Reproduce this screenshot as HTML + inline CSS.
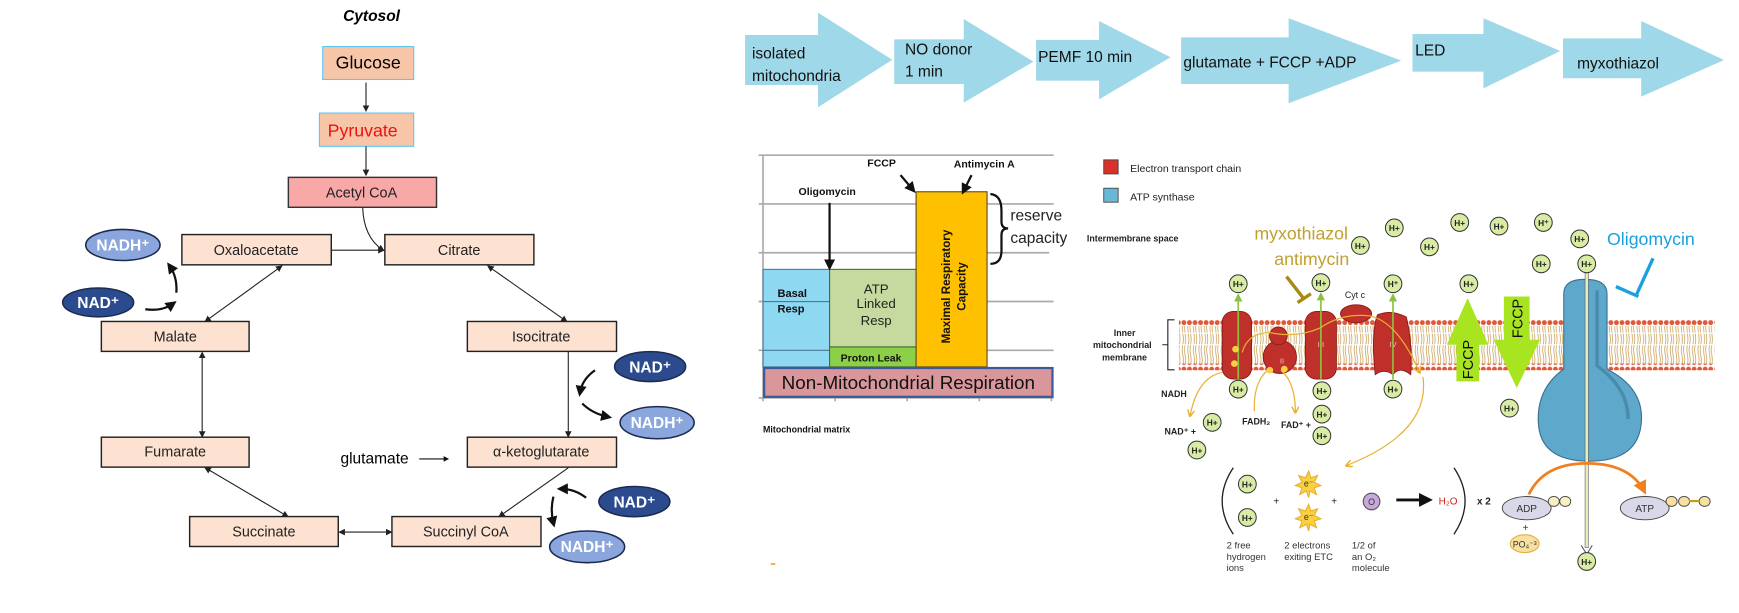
<!DOCTYPE html>
<html><head><meta charset="utf-8"><style>
html,body{margin:0;padding:0;background:#fff;}
svg{display:block;}
text{font-family:"Liberation Sans",sans-serif;}
</style></head><body>
<svg width="1739" height="613" viewBox="0 0 1568 553" preserveAspectRatio="none" xmlns="http://www.w3.org/2000/svg">
<defs>
<marker id="ah" markerWidth="6" markerHeight="6" refX="5" refY="3" orient="auto"><path d="M0,0 L6,3 L0,6z" fill="#222"/></marker>
<marker id="ahs" markerWidth="6" markerHeight="6" refX="1" refY="3" orient="auto"><path d="M6,0 L0,3 L6,6z" fill="#222"/></marker>
<marker id="ab" markerWidth="5" markerHeight="5" refX="3" refY="2.5" orient="auto"><path d="M0,0 L5,2.5 L0,5z" fill="#111"/></marker>
<marker id="ay" markerWidth="6" markerHeight="6" refX="5" refY="3" orient="auto"><path d="M0,0 L6,3 L0,6" fill="none" stroke="#e8b030" stroke-width="1.2"/></marker>
<marker id="ag" markerWidth="5" markerHeight="5" refX="4" refY="2.5" orient="auto"><path d="M0,0 L5,2.5 L0,5z" fill="#8cc040"/></marker>
<marker id="ao" markerWidth="5" markerHeight="5" refX="4" refY="2.5" orient="auto"><path d="M0,0 L5,2.5 L0,5z" fill="#f08020"/></marker>
<pattern id="heads" width="5" height="6" patternUnits="userSpaceOnUse"><circle cx="2.5" cy="3" r="2.2" fill="#e0583a"/></pattern>
<pattern id="tails" width="5" height="40" patternUnits="userSpaceOnUse"><path d="M1.5,0 q1,5 0,10 q-1,5 0,10 M3.5,0 q1,5 0,10 q-1,5 0,10 M1.5,21 q1,5 0,10 q-1,5 0,9 M3.5,21 q1,5 0,10 q-1,5 0,9" stroke="#c8a058" stroke-width="0.7" fill="none"/></pattern>
</defs>

<!-- LEFT PANEL -->
<text x="335" y="19" font-size="14" font-weight="bold" font-style="italic" text-anchor="middle">Cytosol</text>
<g stroke-width="1">
<rect x="291" y="42" width="82" height="29.7" fill="#f7c6a8" stroke="#5cc8f0"/>
<rect x="288" y="102" width="85" height="30" fill="#f7c6a8" stroke="#5cc8f0"/>
<rect x="260" y="160" width="133.6" height="27" fill="#f9a8a8" stroke="#333" stroke-width="1.3"/>
<g fill="#fde2d2" stroke="#222" stroke-width="1.3">
<rect x="164" y="211.6" width="134.7" height="27.3"/>
<rect x="347" y="211.6" width="134.4" height="27.3"/>
<rect x="91.4" y="290" width="133.2" height="27"/>
<rect x="421.4" y="290" width="134.5" height="27"/>
<rect x="91.4" y="394.4" width="133.2" height="27"/>
<rect x="421.4" y="394.4" width="134.5" height="27"/>
<rect x="171" y="466" width="134" height="27"/>
<rect x="353.4" y="466" width="134.4" height="27"/>
</g></g>
<text x="332" y="62" font-size="16" text-anchor="middle">Glucose</text>
<text x="327" y="123" font-size="16" text-anchor="middle" fill="#f01010">Pyruvate</text>
<g font-size="13" text-anchor="middle" fill="#222">
<text x="326" y="178">Acetyl CoA</text>
<text x="231" y="230">Oxaloacetate</text>
<text x="414" y="230">Citrate</text>
<text x="158" y="308">Malate</text>
<text x="488" y="308">Isocitrate</text>
<text x="158" y="412">Fumarate</text>
<text x="488" y="412">α-ketoglutarate</text>
<text x="238" y="484">Succinate</text>
<text x="420" y="484">Succinyl CoA</text>
</g>
<text x="307" y="418" font-size="14">glutamate</text>
<line x1="378" y1="414" x2="403" y2="414" stroke="#111" marker-end="url(#ab)"/>
<g stroke="#222" stroke-width="1" fill="none">
<line x1="330" y1="74.5" x2="330" y2="100" marker-end="url(#ah)"/>
<line x1="330" y1="132" x2="330" y2="158" marker-end="url(#ah)"/>
<path d="M327,187 Q328,215 346,226" marker-end="url(#ah)"/>
<line x1="298.7" y1="225.7" x2="346" y2="225.7" marker-end="url(#ah)"/>
<line x1="254" y1="240" x2="185" y2="290" marker-start="url(#ahs)" marker-end="url(#ah)"/>
<line x1="440" y1="240" x2="511" y2="290" marker-start="url(#ahs)" marker-end="url(#ah)"/>
<line x1="182.3" y1="318" x2="182.3" y2="394" marker-start="url(#ahs)" marker-end="url(#ah)"/>
<line x1="512.4" y1="317" x2="512.4" y2="394" marker-end="url(#ah)"/>
<line x1="512.4" y1="422" x2="450" y2="466" marker-end="url(#ah)"/>
<line x1="185" y1="422" x2="259.6" y2="466" marker-start="url(#ahs)" marker-end="url(#ah)"/>
<line x1="306" y1="480" x2="353" y2="480" marker-start="url(#ahs)" marker-end="url(#ah)"/>
</g>
<g stroke="#111" stroke-width="2" fill="none">
<path d="M131,279 Q146,281 156,274" marker-end="url(#ab)"/>
<path d="M159,264 Q160,250 153,240" marker-end="url(#ab)"/>
<path d="M536.5,334 Q525,342 523,354" marker-end="url(#ab)"/>
<path d="M525,364 Q534,373 548,376" marker-end="url(#ab)"/>
<path d="M528.5,449 Q518,441 506,441" marker-end="url(#ab)"/>
<path d="M499,448 Q496,460 499,472" marker-end="url(#ab)"/>
</g>
<g stroke="#1c2c50" stroke-width="1.4">
<ellipse cx="110.8" cy="221" rx="33.5" ry="14" fill="#8aa6dc"/>
<ellipse cx="88.5" cy="272.8" rx="32" ry="13" fill="#2c4b8e"/>
<ellipse cx="586.2" cy="330.7" rx="32" ry="13.5" fill="#2c4b8e"/>
<ellipse cx="592.5" cy="381.3" rx="33.4" ry="14.5" fill="#8aa6dc"/>
<ellipse cx="572" cy="452.5" rx="32" ry="13.6" fill="#2c4b8e"/>
<ellipse cx="529.4" cy="493.3" rx="33.8" ry="14.3" fill="#8aa6dc"/>
</g>
<g font-size="14" font-weight="bold" fill="#fff" text-anchor="middle">
<text x="110.8" y="226">NADH⁺</text>
<text x="88.5" y="278">NAD⁺</text>
<text x="586.2" y="336">NAD⁺</text>
<text x="592.5" y="386">NADH⁺</text>
<text x="572" y="458">NAD⁺</text>
<text x="529.4" y="498">NADH⁺</text>
</g>

<!-- TOP ARROWS -->
<g fill="#9fd8e9">
<path d="M671.8,31.6 H737.6 V11.4 L804.5,54 L737.6,96.8 V76.7 H671.8z"/>
<path d="M806.3,35.5 H869 V17.1 L931.8,55.6 L869,92.6 V75.8 H806.3z"/>
<path d="M934.2,36 H991 V19 L1055.5,51.7 L991,89.6 V72.7 H934.2z"/>
<path d="M1065,33.7 H1161.9 V16.5 L1263.5,54.7 L1161.9,93.2 V75.8 H1065z"/>
<path d="M1273.6,30.7 H1337.6 V16.5 L1406.9,46 L1337.6,79.7 V64.6 H1273.6z"/>
<path d="M1409.3,34.6 H1479.8 V18.9 L1554.5,54.1 L1479.8,87.2 V70.6 H1409.3z"/>
</g>
<g font-size="14" fill="#111">
<text x="678" y="53">isolated</text>
<text x="678" y="73">mitochondria</text>
<text x="816" y="49">NO donor</text>
<text x="816" y="69">1 min</text>
<text x="936" y="56">PEMF 10 min</text>
<text x="1067" y="61">glutamate + FCCP +ADP</text>
<text x="1276" y="50">LED</text>
<text x="1422" y="62">myxothiazol</text>
</g>

<!-- CHART -->
<g stroke="#aaa" stroke-width="1.5">
<line x1="684" y1="140" x2="950" y2="140"/>
<line x1="684" y1="184" x2="950" y2="184"/>
<line x1="684" y1="228" x2="946" y2="228"/>
<line x1="684" y1="272" x2="950" y2="272"/>
<line x1="684" y1="316" x2="950" y2="316"/>
<line x1="684" y1="359" x2="950" y2="359"/>
<line x1="688" y1="140" x2="688" y2="362"/>
<line x1="753" y1="358" x2="753" y2="362"/><line x1="818" y1="358" x2="818" y2="362"/><line x1="883" y1="358" x2="883" y2="362"/><line x1="948" y1="358" x2="948" y2="362"/>
</g>
<rect x="688" y="243" width="60" height="88" fill="#8ed8f2" stroke="#4a7a9a" stroke-width="1"/>
<line x1="688" y1="272" x2="748" y2="272" stroke="#4a7a9a" stroke-width="1"/>
<line x1="688" y1="316" x2="748" y2="316" stroke="#4a7a9a" stroke-width="1"/>
<rect x="748" y="243" width="78" height="70" fill="#c6d99f" stroke="#4a6a3a" stroke-width="1"/>
<rect x="748" y="313" width="78" height="18" fill="#8cd048" stroke="#4a6a3a" stroke-width="1"/>
<rect x="826" y="173" width="64" height="158" fill="#ffc000" stroke="#5a4a20" stroke-width="1"/>
<rect x="689" y="332" width="260" height="26" fill="#d9979b" stroke="#3a5a9a" stroke-width="2"/>
<text x="819" y="351" font-size="17" text-anchor="middle" fill="#111">Non-Mitochondrial  Respiration</text>
<g font-weight="bold" fill="#111">
<text x="701" y="268" font-size="10">Basal</text><text x="701" y="282" font-size="10">Resp</text>
<text x="758" y="326" font-size="9.5">Proton Leak</text>
<text x="782" y="150" font-size="9.5">FCCP</text>
<text x="860" y="151" font-size="9.5">Antimycin  A</text>
<text x="720" y="176" font-size="9.5">Oligomycin</text>
</g>
<g font-size="12" fill="#222" text-anchor="middle">
<text x="790" y="265">ATP</text><text x="790" y="278">Linked</text><text x="790" y="293">Resp</text>
</g>
<g transform="translate(859.6,258.5) rotate(-90)" font-size="10.5" font-weight="bold" text-anchor="middle" fill="#111">
<text x="0" y="-3">Maximal Respiratory</text><text x="0" y="11">Capacity</text>
</g>
<g stroke="#111" stroke-width="2" fill="none">
<line x1="748" y1="183" x2="748" y2="240" marker-end="url(#ab)"/>
<line x1="812" y1="158" x2="823" y2="171" marker-end="url(#ab)"/>
<line x1="876" y1="158" x2="869" y2="172" marker-end="url(#ab)"/>
<path d="M893,175 Q903,176 903,190 V200 Q903,206 909,206 Q903,206 903,212 V226 Q903,238 893,238"/>
</g>
<text x="911" y="199" font-size="14" fill="#222">reserve</text>
<text x="911" y="219" font-size="14" fill="#222">capacity</text>
<text x="688" y="390" font-size="8" font-weight="bold" fill="#111">Mitochondrial matrix</text>
<rect x="695" y="508" width="4" height="1.5" fill="#f5a030"/>

<!-- RIGHT PANEL -->
<rect x="995.2" y="144.2" width="13" height="12.7" fill="#d8302a" stroke="#444" stroke-width="0.8"/>
<rect x="995.2" y="169.8" width="13" height="12.6" fill="#6ab8d8" stroke="#444" stroke-width="0.8"/>
<text x="1019" y="155" font-size="9.5" fill="#222">Electron transport chain</text>
<text x="1019" y="181" font-size="9.5" fill="#222">ATP synthase</text>
<text x="980" y="218" font-size="8" font-weight="bold" fill="#222">Intermembrane space</text>
<g font-size="8" font-weight="bold" fill="#222" text-anchor="middle">
<text x="1014" y="303">Inner</text><text x="1012" y="314">mitochondrial</text><text x="1014" y="325">membrane</text>
</g>
<path d="M1059,288.5 H1053 V333.6 H1059 M1053,311 H1048" stroke="#222" fill="none"/>
<rect x="1063" y="294" width="483" height="34" fill="url(#tails)"/>
<line x1="1063" y1="311" x2="1546" y2="311" stroke="#fff" stroke-width="1"/>
<rect x="1063" y="288" width="483" height="6" fill="url(#heads)"/>
<rect x="1063" y="328" width="483" height="6" fill="url(#heads)"/>
<g fill="#c0302a" stroke="#8a1a14" stroke-width="0.8">
<rect x="1102" y="281" width="26.5" height="61" rx="10"/>
<ellipse cx="1154" cy="322" rx="15" ry="15"/>
<circle cx="1152.7" cy="303" r="8"/>
<rect x="1177" y="281" width="28" height="61" rx="10"/>
<ellipse cx="1222.7" cy="283" rx="14" ry="8"/>
<path d="M1240,338 Q1236,300 1242,284 Q1255,279 1268,286 Q1274,310 1272,338 Q1262,330 1256,338 Q1248,332 1240,338z"/>
</g>
<g font-size="7" fill="#fbb" text-anchor="middle"><text x="1116" y="314">I</text><text x="1156" y="328">II</text><text x="1191" y="313">III</text><text x="1256" y="313">IV</text></g>
<text x="1221.7" y="269" font-size="8" fill="#222" text-anchor="middle">Cyt c</text>
<g stroke="#8cc040" stroke-width="1.5">
<line x1="1116.5" y1="342" x2="1116.5" y2="266" marker-end="url(#ag)"/>
<line x1="1191" y1="342" x2="1191" y2="265" marker-end="url(#ag)"/>
<line x1="1256" y1="342" x2="1256" y2="266" marker-end="url(#ag)"/>
</g>
<g stroke="#e8b030" stroke-width="1.1" fill="none">
<path d="M1120,318 Q1125,300 1145,300 Q1170,305 1190,296 Q1210,282 1235,285 Q1260,290 1280,336" marker-end="url(#ay)"/>
<path d="M1283,340 Q1290,390 1214,420" marker-end="url(#ay)"/>
<path d="M1102,336 Q1080,340 1073,375" marker-end="url(#ay)"/>
<path d="M1143,334 Q1130,345 1131,371" />
<path d="M1155,334 Q1168,345 1168,372" marker-end="url(#ay)"/>
</g>
<g fill="#f8d040"><circle cx="1114" cy="315" r="3"/><circle cx="1113" cy="328" r="3"/><circle cx="1145" cy="334" r="3"/><circle cx="1158" cy="333" r="3"/></g>
<g font-size="8" font-weight="bold" fill="#222">
<text x="1047" y="358">NADH</text>
<text x="1050" y="392">NAD⁺ +</text>
<text x="1120" y="383">FADH₂</text>
<text x="1155" y="386">FAD⁺ +</text>
</g>
<text x="1131" y="216" font-size="16" fill="#c0a030">myxothiazol</text>
<text x="1149" y="239" font-size="16" fill="#c0a030">antimycin</text>
<path d="M1160,249.5 L1176,270 M1170,273 L1182,265" stroke="#a88a10" stroke-width="3" fill="none"/>
<text x="1449" y="221" font-size="16" fill="#1aa0e0">Oligomycin</text>
<path d="M1490.5,233 L1475.5,266 M1457,258.5 L1477.3,267.5" stroke="#1aa0e0" stroke-width="3" fill="none"/>
<path d="M1323.3,269 L1342,311 H1333.7 V344 H1313.2 V311 H1304.6z" fill="#a8e420"/>
<path d="M1356,267.5 H1379.2 V306.5 H1388.6 L1367.6,350 L1346.8,306.5 H1356z" fill="#a8e420"/>
<text transform="translate(1328,342) rotate(-90)" font-size="13" fill="#111">FCCP</text>
<text transform="translate(1373,305) rotate(-90)" font-size="13" fill="#111">FCCP</text>
<path d="M1410,333 V265 Q1410,252 1429,252 Q1449,252 1449,265 V333 Q1482,350 1480,380 Q1478,416 1433,416 Q1388,416 1387,380 Q1386,350 1410,333z" fill="#5ea8cc" stroke="#3a708e" stroke-width="1"/>
<path d="M1440,262 V330 Q1468,350 1468,378" stroke="#4a8aaa" stroke-width="3" fill="none"/>
<rect x="1429.2" y="246" width="3" height="248" fill="#e8ecb0" stroke="#556" stroke-width="0.5"/>
<path d="M1425.7,492 L1430.7,500 L1435.7,492" fill="none" stroke="#556"/>
<path d="M1378.5,446 Q1392,418 1430.7,418 Q1470,418 1483,444" stroke="#f08020" stroke-width="2.5" fill="none" marker-end="url(#ao)"/>
<g stroke="#444" stroke-width="0.8">
<ellipse cx="1376.6" cy="458.4" rx="22" ry="10.5" fill="#d8d8e8"/>
<ellipse cx="1401" cy="452.3" rx="5" ry="4.5" fill="#f8f0c0"/><ellipse cx="1411.3" cy="452.3" rx="5" ry="4.5" fill="#f8f0c0"/>
<ellipse cx="1483" cy="458.4" rx="22" ry="10.5" fill="#d8d8e8"/>
<ellipse cx="1507.2" cy="452.3" rx="5" ry="4.5" fill="#f8e0a0"/><ellipse cx="1518.5" cy="452.3" rx="5" ry="4.5" fill="#f8e0a0"/><ellipse cx="1537" cy="452.3" rx="5" ry="4.5" fill="#f8e0a0"/>
</g>
<line x1="1523" y1="452" x2="1532" y2="452" stroke="#c0a010" stroke-width="2"/>
<ellipse cx="1374.8" cy="490.5" rx="13" ry="8" fill="#f8e0a0" stroke="#e0b040"/>
<g font-size="9" fill="#333" text-anchor="middle">
<text x="1376.6" y="462">ADP</text><text x="1483" y="462">ATP</text>
<text x="1375.5" y="479">+</text><text x="1374.8" y="494" font-size="8">PO₄⁻³</text>
</g>
<path d="M1112,422 Q1092,452 1112,482" stroke="#222" stroke-width="1.2" fill="none"/>
<path d="M1311,422 Q1331,452 1311,482" stroke="#222" stroke-width="1.2" fill="none"/>
<g font-size="9" fill="#222" text-anchor="middle"><text x="1150.8" y="455">+</text><text x="1203" y="455">+</text><text x="1338" y="455" font-weight="bold">x 2</text></g>
<g fill="#f8d040" stroke="#e8b030"><path d="M1180,425 l2,6 6,-2 -3,6 6,3 -6,2 2,6 -6,-3 -1,6 -2,-6 -6,3 2,-6 -6,-2 6,-3 -3,-6 6,2z"/><path d="M1180,455 l2,6 6,-2 -3,6 6,3 -6,2 2,6 -6,-3 -1,6 -2,-6 -6,3 2,-6 -6,-2 6,-3 -3,-6 6,2z"/></g>
<g font-size="8" fill="#333" text-anchor="middle"><text x="1180" y="439">e⁻</text><text x="1180" y="469">e⁻</text></g>
<circle cx="1236.7" cy="452.4" r="7.5" fill="#c8a8d8" stroke="#555"/>
<text x="1236.7" y="455.5" font-size="8" text-anchor="middle" fill="#333">O</text>
<line x1="1259" y1="451" x2="1287" y2="451" stroke="#111" stroke-width="2.5" marker-end="url(#ab)"/>
<text x="1305.7" y="455" font-size="9" fill="#d02020" text-anchor="middle">H₂O</text>
<g font-size="8.5" fill="#333">
<text x="1106" y="495">2 free</text><text x="1106" y="505">hydrogen</text><text x="1106" y="515">ions</text>
<text x="1158" y="495">2 electrons</text><text x="1158" y="505">exiting ETC</text>
<text x="1219" y="495">1/2 of</text><text x="1219" y="505">an O₂</text><text x="1219" y="515">molecule</text>
</g>
<g fill="#d8eca4" stroke="#333" stroke-width="0.9">
<circle cx="1116.5" cy="256" r="8"/><circle cx="1191" cy="255" r="8"/><circle cx="1256" cy="256" r="8"/><circle cx="1324.4" cy="256" r="8"/>
<circle cx="1257.2" cy="205.6" r="8"/><circle cx="1226.6" cy="221.5" r="8"/><circle cx="1288.9" cy="222.7" r="8"/><circle cx="1316.2" cy="200.7" r="8"/>
<circle cx="1351.6" cy="204" r="8"/><circle cx="1391.6" cy="200.7" r="8"/><circle cx="1424.4" cy="215.5" r="8"/><circle cx="1389.7" cy="238" r="8"/><circle cx="1430.7" cy="238" r="8"/>
<circle cx="1116.5" cy="351" r="8"/><circle cx="1191.9" cy="352.5" r="8"/><circle cx="1256" cy="351" r="8"/><circle cx="1361" cy="368.2" r="8"/>
<circle cx="1191.9" cy="373.6" r="8"/><circle cx="1191.9" cy="393.1" r="8"/><circle cx="1093" cy="381" r="8"/><circle cx="1079.2" cy="406" r="8"/>
<circle cx="1124.7" cy="436.7" r="8"/><circle cx="1124.7" cy="466.8" r="8"/><circle cx="1430.7" cy="506.5" r="8"/>
</g>
<g font-size="7.5" font-weight="bold" fill="#222" text-anchor="middle">
<text x="1116.5" y="259">H+</text><text x="1191" y="258">H+</text><text x="1256" y="259">H⁺</text><text x="1324.4" y="259">H+</text>
<text x="1257.2" y="208.6">H+</text><text x="1226.6" y="224.5">H+</text><text x="1288.9" y="225.7">H+</text><text x="1316.2" y="203.7">H+</text>
<text x="1351.6" y="207">H+</text><text x="1391.6" y="203.7">H⁺</text><text x="1424.4" y="218.5">H+</text><text x="1389.7" y="241">H+</text><text x="1430.7" y="241">H+</text>
<text x="1116.5" y="354">H+</text><text x="1191.9" y="355.5">H+</text><text x="1256" y="354">H+</text><text x="1361" y="371.2">H+</text>
<text x="1191.9" y="376.6">H+</text><text x="1191.9" y="396.1">H+</text><text x="1093" y="384">H+</text><text x="1079.2" y="409">H+</text>
<text x="1124.7" y="439.7">H+</text><text x="1124.7" y="469.8">H+</text><text x="1430.7" y="509.5">H+</text>
</g>
</svg>
</body></html>
